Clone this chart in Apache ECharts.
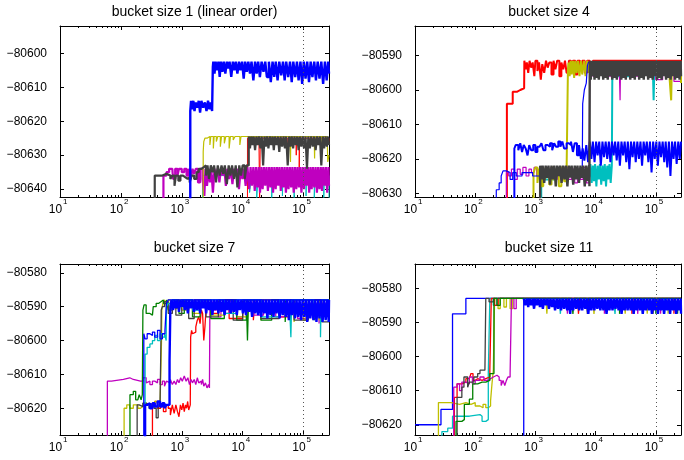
<!DOCTYPE html>
<html><head><meta charset="utf-8">
<script src="https://cdn.jsdelivr.net/npm/echarts@6/dist/echarts.min.js"></script>
<style>html,body{margin:0;padding:0;background:#fff}#c{width:684px;height:460px}</style>
</head><body><div id="c"></div><script>
// ---------- axis settings ----------
const titles = ['bucket size 1 (linear order)', 'bucket size 4', 'bucket size 7', 'bucket size 11'];
const yMin = [-80642.3, -80631.1, -80627.9, -80623.0];
const yMax = [-80592, -80581.4, -80577.4, -80572.9];
const xMin = 10, xMax = 262144;
const markX = 100000;

// ---------- panel 1: bucket size 1 ----------
const p1_blue = [[1380,-80650],[1380,-80617],[1420,-80614],[1480,-80616.5],[1550,-80614],[1620,-80617],[1700,-80614.5],[1800,-80616],[1900,-80614],[2000,-80617.5],[2100,-80614],[2250,-80616],[2400,-80614.5],[2550,-80617],[2700,-80614],[2850,-80616.5],[3000,-80614.5],[3150,-80617],[3240,-80604],[3300,-80602.5],[3450,-80606],[3600,-80602.5],[3800,-80605],[4000,-80602.5],[4200,-80607],[4400,-80602.5],[4650,-80605.5],[4900,-80602.5],[5200,-80606],[5500,-80602.5],[5800,-80604.5],[6100,-80602.5],[6500,-80607],[6900,-80602.5],[7300,-80605],[7700,-80602.5],[8200,-80606],[8700,-80602.5],[9200,-80605],[9800,-80602.5],[10400,-80607.5],[11000,-80602.5],[11700,-80605.5],[12400,-80602.5],[13200,-80606],[14000,-80602.5],[15000,-80608],[16000,-80602.5],[17000,-80606],[18000,-80602.5],[19200,-80607],[20500,-80602.5],[22000,-80605.5],[23500,-80602.5],[25000,-80607],[27000,-80602.5],[29000,-80608.5],[31000,-80602.5],[33000,-80607],[35000,-80602.5],[37500,-80608],[40000,-80602.5],[43000,-80606.5],[46000,-80602.5],[49000,-80608],[52000,-80602.5],[56000,-80607],[60000,-80602.5],[64000,-80608.5],[68000,-80602.5],[73000,-80607],[78000,-80602.5],[83000,-80608],[89000,-80602.5],[95000,-80609],[101000,-80602.5],[108000,-80607.5],[115000,-80602.5],[123000,-80608.5],[131000,-80602.5],[140000,-80607],[150000,-80602.5],[160000,-80608],[171000,-80602.5],[183000,-80607.5],[196000,-80602.5],[210000,-80609],[225000,-80602.5],[240000,-80608],[255000,-80602.5],[262144,-80606]];
const p1_gray = [[360,-80650],[360,-80636],[400,-80636],[480,-80635.5],[560,-80636],[650,-80637],[700,-80636],[760,-80639],[800,-80636],[880,-80637.5],[950,-80636],[1050,-80636.5],[1150,-80637],[1250,-80636.5],[1350,-80638],[1450,-80636],[1600,-80637],[1750,-80635],[1900,-80634],[2100,-80633.5],[2300,-80633],[2500,-80636],[2650,-80633],[2800,-80637],[3000,-80633],[3200,-80635],[3400,-80633],[3650,-80638],[3900,-80633],[4200,-80636],[4500,-80633],[4800,-80635.5],[5100,-80633],[5500,-80638.5],[5900,-80633],[6300,-80636],[6700,-80633],[7200,-80637],[7700,-80633],[8200,-80639.5],[8800,-80633],[9400,-80636],[10000,-80633],[10800,-80637],[11600,-80633],[12600,-80624.5],[13200,-80628],[13800,-80624.5],[14500,-80627],[15200,-80624.5],[16000,-80628.5],[16800,-80624.5],[17700,-80627],[18600,-80624.5],[19600,-80628],[20600,-80624.5],[21700,-80633],[22800,-80624.5],[24000,-80627.5],[25200,-80624.5],[26500,-80628],[28000,-80624.5],[29500,-80627],[31000,-80624.5],[32500,-80628.5],[34000,-80624.5],[36000,-80627],[38000,-80624.5],[40000,-80629],[42000,-80624.5],[44500,-80627.5],[47000,-80624.5],[49500,-80628],[52000,-80624.5],[55000,-80633],[58000,-80624.5],[61000,-80627.5],[64000,-80624.5],[67500,-80628],[71000,-80624.5],[75000,-80627],[79000,-80624.5],[83000,-80628.5],[87000,-80624.5],[92000,-80627.5],[97000,-80624.5],[102000,-80628],[108000,-80624.5],[114000,-80634],[120000,-80624.5],[127000,-80628],[134000,-80624.5],[142000,-80627.5],[150000,-80624.5],[158000,-80628.5],[167000,-80624.5],[176000,-80627],[186000,-80624.5],[196000,-80633],[207000,-80624.5],[218000,-80628],[230000,-80624.5],[242000,-80627.5],[254000,-80624.5],[262144,-80627]];
const p1_yellow = [[2250,-80650],[2250,-80629],[2300,-80626],[2400,-80625],[2600,-80624.5],[2900,-80627],[3000,-80624.5],[3300,-80628],[3400,-80624.5],[3700,-80626],[3900,-80624.5],[4300,-80627.5],[4500,-80624.5],[5000,-80626.5],[5300,-80624.5],[6000,-80628],[6300,-80624.5],[7000,-80625.5],[7500,-80624.5],[9000,-80627],[9400,-80624.5],[60000,-80624.5],[61000,-80632],[62000,-80624.5],[150000,-80624.5],[152000,-80631],[154000,-80624.5],[190000,-80624.5],[192000,-80632],[195000,-80624.5],[245000,-80624.5],[250000,-80632],[262144,-80630]];
const p1_magenta = [[500,-80650],[500,-80636],[560,-80635],[620,-80634],[700,-80634],[720,-80637],[780,-80634],[850,-80636],[900,-80634],[1000,-80635],[1100,-80634],[1200,-80636],[1300,-80634],[1400,-80637],[1500,-80634],[1600,-80635.5],[1700,-80634],[1850,-80638],[2000,-80634],[2200,-80637],[2350,-80642],[2450,-80634],[2600,-80639],[2750,-80634],[2900,-80638],[3050,-80634],[3250,-80641],[3450,-80634],[3650,-80636.5],[3900,-80634],[4150,-80638],[4400,-80634],[4700,-80636],[5000,-80634],[5300,-80639],[5600,-80634],[6000,-80637],[6400,-80634],[6800,-80638.5],[7200,-80634],[7700,-80636],[8200,-80634],[8700,-80640],[9300,-80634],[9900,-80637],[10500,-80634],[11200,-80639],[12000,-80633.5],[12800,-80640],[13500,-80633.5],[14200,-80639],[15000,-80633.5],[15800,-80640.5],[16600,-80633.5],[17500,-80639.5],[18400,-80633.5],[19300,-80641],[20300,-80633.5],[21300,-80640],[22400,-80633.5],[23500,-80639],[24700,-80633.5],[26000,-80640.5],[27300,-80633.5],[28700,-80639.5],[30100,-80633.5],[31600,-80641],[33200,-80633.5],[34900,-80640],[36600,-80633.5],[38400,-80639],[40300,-80633.5],[42300,-80640.5],[44400,-80633.5],[46600,-80639.5],[49000,-80633.5],[51400,-80641],[54000,-80633.5],[56700,-80640],[59500,-80633.5],[62500,-80639.5],[65600,-80633.5],[69000,-80641],[72400,-80633.5],[76000,-80640],[79800,-80633.5],[83800,-80639.5],[88000,-80633.5],[92400,-80641],[97000,-80633.5],[102000,-80640],[107000,-80633.5],[112000,-80639],[118000,-80633.5],[124000,-80641],[130000,-80633.5],[136000,-80640],[143000,-80633.5],[150000,-80639.5],[158000,-80633.5],[166000,-80641],[174000,-80633.5],[183000,-80640],[192000,-80633.5],[201000,-80640.5],[211000,-80633.5],[222000,-80639],[233000,-80633.5],[245000,-80641],[257000,-80633.5],[262144,-80639]];
const p1_cyan = [[2200,-80650],[2200,-80636],[12000,-80636],[13000,-80641],[14000,-80636],[17000,-80643],[18000,-80636],[30000,-80643],[31000,-80636],[45000,-80642],[46000,-80636],[70000,-80643],[72000,-80636],[110000,-80642],[112000,-80636],[150000,-80643],[155000,-80636],[215000,-80643],[220000,-80636],[262144,-80643]];
const p1_red = [[12000,-80650],[12000,-80625],[18500,-80625],[19000,-80643],[19500,-80625],[55000,-80625],[56000,-80632],[57000,-80625],[75000,-80625],[76000,-80630],[77000,-80625],[85000,-80634],[86000,-80625],[262144,-80626]];

// ---------- panel 2: bucket size 4 ----------
const p2_red = [[336,-80650],[336,-80604],[420,-80604],[420,-80600.5],[500,-80600],[560,-80599.5],[650,-80600],[655,-80591.5],[690,-80594],[720,-80592],[760,-80595],[800,-80591.5],[850,-80593.5],[900,-80592],[960,-80596],[1000,-80591.5],[1080,-80594.5],[1150,-80592],[1230,-80597],[1300,-80592.5],[1400,-80595],[1500,-80591.5],[1600,-80593.5],[1700,-80592],[1850,-80595.5],[2000,-80591.5],[2150,-80594],[2300,-80591.5],[2500,-80596],[2700,-80592],[2900,-80594],[3100,-80591.5],[3300,-80595],[3600,-80591.5],[3900,-80594],[4200,-80591.5],[4600,-80595.5],[5000,-80591.5],[5500,-80594],[6000,-80591.5],[6600,-80595],[7200,-80591.5],[8000,-80595],[9000,-80591.5],[262144,-80596]];
const p2_blueA = [[224,-80650],[224,-80629],[250,-80627],[270,-80625],[290,-80623.5],[330,-80624],[380,-80626],[420,-80624],[480,-80625],[600,-80624],[900,-80625],[1500,-80624],[3000,-80625],[5000,-80624],[6000,-80624],[6100,-80604],[6500,-80600],[7000,-80598],[7300,-80593],[7600,-80592],[262144,-80594]];
const p2_blueB = [[447,-80650],[447,-80617],[470,-80616],[520,-80617.5],[560,-80615.5],[600,-80618],[640,-80616],[690,-80617],[740,-80619],[790,-80616],[850,-80617.5],[920,-80616],[1000,-80618],[1080,-80616.5],[1170,-80617],[1260,-80615.5],[1360,-80617.5],[1470,-80616],[1600,-80616.5],[1750,-80615.5],[1900,-80617.5],[2050,-80615.5],[2200,-80616.5],[2400,-80615],[2600,-80616.5],[2800,-80615],[3000,-80617],[3300,-80615.5],[3600,-80616],[3900,-80615],[4200,-80618],[4500,-80615.5],[4900,-80619],[5300,-80616],[5700,-80620],[6100,-80617],[6500,-80620.5],[7000,-80616],[7500,-80621],[8000,-80615],[8500,-80620],[9000,-80615],[9600,-80621],[10200,-80615],[10800,-80619],[11500,-80615],[12200,-80622],[13000,-80615],[13800,-80619.5],[14700,-80615],[15600,-80620],[16600,-80615],[17600,-80621],[18700,-80615],[19900,-80619],[21100,-80615],[22400,-80620.5],[23800,-80615],[25300,-80622],[26900,-80615],[28600,-80619],[30400,-80615],[32300,-80621],[34300,-80615],[36400,-80623],[38700,-80615],[41100,-80619.5],[43700,-80615],[46400,-80621],[49300,-80615],[52400,-80620],[55600,-80615],[59100,-80622],[62800,-80615],[66700,-80619],[70900,-80615],[75300,-80621],[80000,-80615],[85000,-80624],[90300,-80615],[96000,-80620],[102000,-80615],[108000,-80622],[115000,-80615],[122000,-80619.5],[130000,-80615],[138000,-80621],[146000,-80615],[155000,-80622.5],[165000,-80615],[175000,-80625],[186000,-80615],[197000,-80620],[209000,-80615],[222000,-80621.5],[236000,-80615],[250000,-80620],[262144,-80615]];
const p2_magenta = [[330,-80650],[330,-80624],[360,-80625],[400,-80623],[450,-80626],[500,-80623],[560,-80624.5],[620,-80622.5],[700,-80625],[780,-80623],[860,-80624],[950,-80622.5],[1050,-80625],[1150,-80623],[1300,-80626],[1450,-80623],[1600,-80625],[1800,-80622.5],[2000,-80626],[2300,-80623],[2600,-80625.5],[3000,-80622.5],[3500,-80626],[4000,-80623],[4500,-80627],[5000,-80623],[5600,-80626],[6200,-80622.5],[7000,-80627],[7800,-80623],[8000,-80593],[9000,-80596],[10000,-80592],[15000,-80596],[20000,-80592],[25000,-80597],[25500,-80603],[26000,-80592],[40000,-80596],[60000,-80592],[100000,-80597],[130000,-80592],[200000,-80597.5],[262144,-80596]];
const p2_yellow = [[930,-80650],[930,-80624],[1000,-80622.5],[1080,-80627],[1150,-80623],[1250,-80628],[1350,-80622.5],[1450,-80626],[1550,-80623],[1700,-80627.5],[1850,-80622.5],[2000,-80626],[2200,-80623],[2450,-80628],[2700,-80622.5],[3000,-80626.5],[3300,-80623],[3470,-80594],[3550,-80592],[3700,-80596],[3850,-80591.5],[4000,-80595.5],[4200,-80591.5],[4400,-80596.5],[4600,-80591.5],[4850,-80595],[5100,-80591.5],[5400,-80596],[5700,-80591.5],[6000,-80595.5],[6400,-80591.5],[6800,-80596],[7200,-80591.5],[7700,-80595],[8200,-80592],[100000,-80592],[170000,-80597],[180000,-80603],[185000,-80592],[262144,-80598]];
const p2_gray = [[1200,-80650],[1200,-80622],[1260,-80626],[1320,-80622],[1400,-80627],[1480,-80622],[1560,-80625.5],[1650,-80622],[1750,-80627.5],[1850,-80622],[1950,-80626],[2060,-80622],[2180,-80628],[2300,-80622],[2430,-80625],[2570,-80622],[2720,-80627],[2880,-80622],[3050,-80626],[3220,-80622],[3400,-80628],[3600,-80622],[3800,-80625.5],[4000,-80622],[4250,-80627.5],[4500,-80622],[4750,-80626],[5000,-80622],[5300,-80627],[5600,-80622],[5900,-80625.5],[6250,-80622],[6600,-80628],[7000,-80622],[7400,-80626.5],[7800,-80622],[7900,-80628],[8000,-80591.5],[8300,-80597],[8600,-80591.5],[8900,-80596],[9200,-80591.5],[9600,-80597],[10000,-80591.5],[10400,-80596.5],[10800,-80591.5],[11300,-80597],[11800,-80591.5],[12300,-80596],[12800,-80591.5],[13400,-80597],[14000,-80591.5],[14600,-80596.5],[15200,-80591.5],[15900,-80597],[16600,-80591.5],[17300,-80596],[18100,-80591.5],[18900,-80597],[19700,-80591.5],[20600,-80596.5],[21500,-80591.5],[22500,-80597],[23500,-80591.5],[24500,-80596],[25600,-80591.5],[26700,-80597],[27900,-80591.5],[29100,-80596.5],[30400,-80591.5],[31700,-80597],[33100,-80591.5],[34600,-80596],[36100,-80591.5],[37700,-80597],[39300,-80591.5],[41000,-80596.5],[42800,-80591.5],[44700,-80597],[46700,-80591.5],[48700,-80596],[50800,-80591.5],[53000,-80597],[55400,-80591.5],[57800,-80596.5],[60300,-80591.5],[63000,-80597],[65700,-80591.5],[68600,-80596],[71600,-80591.5],[74700,-80597],[78000,-80591.5],[81400,-80596.5],[85000,-80591.5],[88700,-80597],[92600,-80591.5],[96600,-80596],[100800,-80591.5],[105200,-80597],[109800,-80591.5],[114600,-80596.5],[119600,-80591.5],[124800,-80597],[130300,-80591.5],[136000,-80596],[142000,-80591.5],[148200,-80597],[154700,-80591.5],[161500,-80596.5],[168600,-80591.5],[176000,-80597],[183700,-80591.5],[191700,-80596],[200100,-80591.5],[208900,-80597],[218000,-80591.5],[227600,-80596.5],[237600,-80591.5],[248000,-80597],[258800,-80591.5],[262144,-80596]];
const p2_cyan = [[1250,-80650],[1250,-80626],[2000,-80625],[8000,-80624],[8200,-80621.5],[8600,-80627],[9000,-80622],[9400,-80626.5],[9800,-80621.5],[10300,-80628],[10800,-80622],[11300,-80626],[11800,-80621.5],[12400,-80627.5],[13000,-80622],[13600,-80626.5],[14200,-80621.5],[14900,-80628],[15600,-80622],[16300,-80626],[17000,-80621.5],[17800,-80627],[18600,-80622],[19000,-80592.5],[20000,-80596],[40000,-80592],[90000,-80596],[92000,-80603],[95000,-80592],[262144,-80597]];

// ---------- panel 3: bucket size 7 ----------
const p3_magenta = [[60,-80650],[60,-80612],[70,-80611.5],[110,-80611],[140,-80611.5],[160,-80612],[210,-80612],[230,-80611],[260,-80612.5],[280,-80612],[300,-80613],[330,-80612],[360,-80612.5],[400,-80611.5],[440,-80613],[480,-80612],[520,-80613.5],[560,-80612],[600,-80612.5],[650,-80611.5],[700,-80613],[750,-80612],[800,-80613],[850,-80611.5],[900,-80612.5],[960,-80611],[1020,-80612],[1100,-80610.5],[1180,-80612],[1260,-80611],[1340,-80613],[1420,-80611.5],[1500,-80612.5],[1600,-80611.5],[1700,-80613],[1800,-80611],[1900,-80612.5],[2000,-80612],[2100,-80613],[2200,-80611.5],[2300,-80613.5],[2450,-80612.5],[2600,-80614],[2750,-80613],[2850,-80614],[2900,-80589],[3000,-80592],[3200,-80588.5],[3400,-80591],[3700,-80588.5],[4000,-80593],[4400,-80589],[5000,-80592],[6000,-80588.5],[8000,-80593],[10000,-80589],[15000,-80592.5],[22000,-80589],[35000,-80593],[50000,-80589],[80000,-80593.5],[120000,-80589],[180000,-80595],[185000,-80589],[262144,-80590]];
const p3_yellow = [[113,-80650],[113,-80620],[125,-80619],[140,-80620],[160,-80619],[190,-80620],[210,-80619.5],[230,-80618.5],[260,-80619],[300,-80618.5],[330,-80619.5],[360,-80618],[400,-80619],[440,-80618.5],[465,-80600],[470,-80591],[490,-80589],[520,-80588],[560,-80590],[600,-80588],[650,-80591],[700,-80588],[800,-80590.5],[900,-80588],[1000,-80591],[1200,-80588],[1500,-80592],[2000,-80588],[3000,-80592.5],[5000,-80588],[8000,-80593],[12000,-80588],[20000,-80594],[21000,-80588],[40000,-80588],[70000,-80594.5],[73000,-80588],[100000,-80594],[110000,-80588],[180000,-80594],[190000,-80588],[262144,-80590]];
const p3_green = [[141,-80650],[141,-80616],[160,-80615],[175,-80617.5],[190,-80617],[200,-80616],[215,-80617.5],[225,-80616],[230,-80591],[240,-80589.5],[260,-80592],[300,-80592.5],[330,-80592],[340,-80590],[380,-80589],[420,-80588.5],[460,-80588],[500,-80589],[560,-80588],[600,-80591],[700,-80588],[900,-80592],[1100,-80588],[1500,-80593],[2000,-80588],[3000,-80593.5],[5000,-80588],[8000,-80594],[11500,-80588],[12000,-80600],[12500,-80588],[20000,-80594],[30000,-80588],[50000,-80594.5],[52000,-80588],[150000,-80594],[155000,-80588],[262144,-80590]];
const p3_gray = [[185,-80650],[185,-80619],[200,-80619.5],[230,-80618.5],[260,-80619],[290,-80620],[320,-80619],[350,-80620],[380,-80622.8],[410,-80620],[440,-80618.5],[455,-80600],[460,-80591],[480,-80590],[520,-80588.5],[600,-80592],[700,-80588],[800,-80592.5],[1000,-80588],[1300,-80593.5],[1600,-80588],[2500,-80593],[4000,-80588],[7000,-80594],[10000,-80588],[20000,-80593.5],[40000,-80588],[70000,-80594],[120000,-80588],[200000,-80594.5],[262144,-80589]];
const p3_cyan = [[250,-80650],[250,-80604],[270,-80602],[300,-80601],[330,-80600],[360,-80598.5],[400,-80600],[440,-80598],[480,-80599],[520,-80598],[555,-80600],[560,-80590],[600,-80589],[650,-80591],[700,-80588],[800,-80590],[1000,-80588],[1500,-80591],[2000,-80588],[5000,-80592],[8000,-80588],[20000,-80593],[40000,-80588],[60000,-80593],[62000,-80599],[64000,-80588],[150000,-80593],[190000,-80599],[195000,-80588],[262144,-80591]];
const p3_blueA = [[238,-80650],[238,-80598],[250,-80599.5],[270,-80598],[300,-80598.5],[330,-80597.5],[360,-80599],[400,-80597],[440,-80599.5],[480,-80598],[530,-80597],[560,-80589],[600,-80588],[262144,-80588]];
const p3_blueB = [[250,-80650],[250,-80619],[270,-80618.5],[300,-80620],[330,-80618.5],[360,-80619.5],[400,-80618],[440,-80619.5],[480,-80618.5],[520,-80620],[560,-80619],[600,-80619],[630,-80606],[650,-80590],[680,-80588],[720,-80591],[760,-80588],[800,-80590.5],[850,-80588],[900,-80591.5],[950,-80588],[1000,-80590],[1060,-80588],[1120,-80591],[1190,-80588],[1260,-80592],[1330,-80588],[1410,-80590.5],[1500,-80588],[1590,-80591.5],[1680,-80588],[1780,-80591],[1890,-80588],[2000,-80592],[2120,-80588],[2250,-80590.5],[2380,-80588],[2520,-80592],[2670,-80588],[2830,-80591],[3000,-80588],[3180,-80592.5],[3370,-80588],[3570,-80591],[3780,-80588],[4000,-80592],[4240,-80588],[4500,-80591.5],[4770,-80588],[5050,-80592.5],[5350,-80588],[5670,-80591],[6000,-80588],[6360,-80592],[6740,-80588],[7140,-80591.5],[7570,-80588],[8020,-80592.5],[8500,-80588],[9000,-80591],[9540,-80588],[10100,-80592],[10700,-80588],[11350,-80592.5],[12000,-80588],[12750,-80591.5],[13500,-80588],[14300,-80593],[15200,-80588],[16100,-80592],[17000,-80588],[18000,-80592.5],[19100,-80588],[20200,-80593],[21400,-80588],[22700,-80592],[24100,-80588],[25500,-80593.5],[27000,-80588],[28600,-80592.5],[30300,-80588],[32100,-80593],[34000,-80588],[36000,-80592],[38200,-80588],[40500,-80593.5],[42900,-80588],[45500,-80592.5],[48200,-80588],[51100,-80593],[54100,-80588],[57400,-80594],[60800,-80588],[64400,-80592.5],[68300,-80588],[72400,-80593.5],[76700,-80588],[81300,-80593],[86100,-80588],[91300,-80594],[96700,-80588],[102500,-80593],[108600,-80588],[115100,-80594.5],[122000,-80588],[129300,-80593.5],[137000,-80588],[145200,-80594],[153900,-80588],[163100,-80594.5],[172800,-80588],[183100,-80593.5],[194100,-80588],[205700,-80594.5],[218000,-80588],[231000,-80594],[244800,-80588],[259400,-80594.5],[262144,-80588]];
const p3_red = [[330,-80650],[330,-80619],[360,-80618],[400,-80620],[450,-80619],[500,-80621],[550,-80619],[600,-80620],[650,-80622],[700,-80619],[750,-80621.5],[800,-80619],[850,-80621],[900,-80622.5],[950,-80619],[1000,-80620.5],[1050,-80618.5],[1100,-80621],[1150,-80619],[1200,-80620],[1250,-80618],[1300,-80620.5],[1380,-80619],[1400,-80599],[1450,-80597],[1500,-80598],[1600,-80597.5],[1700,-80596],[1800,-80594],[1900,-80593],[2000,-80595],[2100,-80591],[2200,-80592],[2300,-80600],[2400,-80596],[2500,-80591],[2600,-80589],[3000,-80592],[4000,-80588],[6000,-80593.5],[10000,-80588],[15000,-80594],[16000,-80588],[40000,-80593],[60000,-80588],[262144,-80592]];

// ---------- panel 4: bucket size 11 ----------
const p4_blueA = [[10,-80620],[27,-80615.5],[42,-80587.5],[70,-80583],[640,-80650]];
const p4_yellow = [[24.5,-80650],[24.5,-80613.5],[40,-80614],[55,-80613.5],[70,-80614],[85,-80613.5],[100,-80614.5],[120,-80615],[135,-80614],[150,-80615],[165,-80614.5],[180,-80613],[190,-80608],[200,-80604],[210,-80583],[240,-80586],[260,-80583],[300,-80585.5],[330,-80583],[380,-80586],[420,-80583],[1500,-80583],[1550,-80587.5],[1600,-80583],[9000,-80583],[9400,-80587.5],[9800,-80583],[30000,-80583],[31000,-80587.5],[32000,-80583],[70000,-80583],[72000,-80587.5],[74000,-80583],[110000,-80587.5],[112000,-80583],[160000,-80587.5],[165000,-80583],[262144,-80583]];
const p4_cyan = [[28,-80650],[28,-80622],[35,-80621],[42,-80617.5],[60,-80617.5],[80,-80617],[120,-80617.5],[130,-80619],[150,-80619],[160,-80618.5],[165,-80605],[175,-80583],[200,-80585],[230,-80583],[2500,-80583],[2600,-80587.5],[2700,-80583],[20000,-80583],[21000,-80587.5],[22000,-80583],[60000,-80587.5],[62000,-80583],[140000,-80587.5],[145000,-80583],[262144,-80583]];
const p4_red = [[45,-80650],[45,-80612],[50,-80608],[60,-80607.5],[70,-80606.5],[80,-80607],[85,-80605],[92,-80607],[100,-80606.5],[110,-80607],[130,-80606.5],[150,-80607],[160,-80606],[175,-80604],[185,-80583],[210,-80585],[240,-80583],[5000,-80583],[5200,-80587.5],[5400,-80583],[40000,-80587.5],[42000,-80583],[200000,-80587.5],[205000,-80583],[262144,-80583]];
const p4_magenta = [[44,-80650],[44,-80609],[50,-80608],[55,-80610],[60,-80607.5],[70,-80608],[80,-80606],[90,-80608],[100,-80607],[120,-80606],[140,-80607],[160,-80606.5],[180,-80606],[200,-80605.5],[230,-80606],[250,-80607],[270,-80608.5],[290,-80607],[310,-80608.5],[330,-80607],[350,-80606],[380,-80605],[400,-80583],[440,-80586],[480,-80583],[3300,-80583],[3400,-80587.5],[3500,-80583],[14000,-80587.5],[14500,-80583],[50000,-80587.5],[52000,-80583],[120000,-80587.5],[124000,-80583],[262144,-80583]];
const p4_gray = [[50,-80650],[50,-80612],[60,-80609],[65,-80606],[75,-80609],[80,-80607.5],[95,-80606],[110,-80605],[120,-80604],[145,-80604],[150,-80583],[170,-80584],[200,-80583],[7000,-80583],[7300,-80587.5],[7600,-80583],[90000,-80587.5],[94000,-80583],[262144,-80583]];
const p4_green = [[48,-80650],[48,-80619],[60,-80618.5],[66,-80614],[80,-80612.5],[91,-80608],[110,-80607.5],[130,-80607.5],[150,-80607],[175,-80605],[205,-80583],[230,-80585],[260,-80583],[4000,-80583],[4200,-80587.5],[4400,-80583],[25000,-80587.5],[26000,-80583],[100000,-80587.5],[104000,-80583],[230000,-80587.5],[235000,-80583],[262144,-80583]];
const p4_blueB = [[640,-80583],[680,-80585],[720,-80583],[760,-80585.5],[800,-80583],[850,-80585],[900,-80583],[950,-80586],[1000,-80583],[1060,-80585],[1120,-80583],[1190,-80585.5],[1260,-80583],[1330,-80586],[1410,-80583],[1500,-80585],[1590,-80583],[1680,-80586],[1780,-80583],[1890,-80585.5],[2000,-80583],[2120,-80586.5],[2250,-80583],[2380,-80586],[2520,-80583],[2670,-80586.5],[2830,-80583],[3000,-80586],[3180,-80583],[3370,-80586.5],[3570,-80583],[3780,-80587.5],[4000,-80583],[4240,-80586.5],[4500,-80583],[4770,-80586],[5050,-80583],[5350,-80586.5],[5670,-80583],[6000,-80586.5],[6360,-80583],[6740,-80586],[7140,-80583],[7570,-80587.5],[8020,-80583],[8500,-80586.5],[9000,-80583],[9540,-80586.5],[10100,-80583],[10700,-80586],[11350,-80583],[12000,-80586.5],[12750,-80583],[13500,-80586.5],[14300,-80583],[15200,-80587.5],[16100,-80583],[17000,-80586.5],[18000,-80583],[19100,-80586.5],[20200,-80583],[21400,-80586],[22700,-80583],[24100,-80586.5],[25500,-80583],[27000,-80587.5],[28600,-80583],[30300,-80586.5],[32100,-80583],[34000,-80586.5],[36000,-80583],[38200,-80586.5],[40500,-80583],[42900,-80587.5],[45500,-80583],[48200,-80586.5],[51100,-80583],[54100,-80586.5],[57400,-80583],[60800,-80587.5],[64400,-80583],[68300,-80586.5],[72400,-80583],[76700,-80586.5],[81300,-80583],[86100,-80587.5],[91300,-80583],[96700,-80586.5],[102500,-80583],[108600,-80587.5],[115100,-80583],[122000,-80586.5],[129300,-80583],[137000,-80587.5],[145200,-80583],[153900,-80586.5],[163100,-80583],[172800,-80587.5],[183100,-80583],[194100,-80586.5],[205700,-80583],[218000,-80587.5],[231000,-80583],[244800,-80586.5],[259400,-80583],[262144,-80587.5]];

// ---------- styling & assembly ----------
const COL = {b:'#0000ff', g:'#008000', r:'#ff0000', c:'#00bfbf', m:'#bf00bf', y:'#bfbf00', k:'#404040'};
// [colour key, data, line width]
const panels = [
  [['r',p1_red,1],['c',p1_cyan,1],['m',p1_magenta,2.2],['y',p1_yellow,1.2],['k',p1_gray,2.2],['b',p1_blue,2.4]],
  [['r',p2_red,2],['c',p2_cyan,2],['m',p2_magenta,1.2],['y',p2_yellow,2],['b',p2_blueA,1.2],['b',p2_blueB,2],['k',p2_gray,2.4]],
  [['r',p3_red,1.3],['m',p3_magenta,1.3],['y',p3_yellow,1.3],['g',p3_green,1.3],['k',p3_gray,1.3],['c',p3_cyan,1.3],['b',p3_blueA,1.3],['b',p3_blueB,2.4]],
  [['b',p4_blueA,1.3],['y',p4_yellow,1.3],['c',p4_cyan,1.3],['r',p4_red,1.3],['m',p4_magenta,1.3],['k',p4_gray,1.3],['g',p4_green,1.3],['b',p4_blueB,2.4]]
];
const FONT = 'Liberation Sans, Arial, Helvetica, sans-serif';
const grids = [
  {left:60, top:26, width:269, height:171},
  {left:415, top:26, width:268, height:171},
  {left:60, top:264, width:269, height:171},
  {left:415, top:264, width:268, height:171}
];
const titleCenters = [[194.5, 5], [549, 5], [194.5, 241], [549, 241]];
const minorVals = [];
for (let d = 1; d <= 5; d++) for (let k = 2; k <= 9; k++) {
  const v = Math.log10(k) + d; if (v < Math.log10(xMax)) minorVals.push(v);
}
const isDecade = v => { const e = Math.log10(v); return Math.abs(e - Math.round(e)) < 1e-6; };
const NX = 5; // x axes per panel
const lineSty = {show:true, lineStyle:{color:'#000', width:1}};
const xAxes = [], yAxes = [], series = [], title = [];
grids.forEach((g, i) => {
  title.push({text: titles[i], left: titleCenters[i][0], top: titleCenters[i][1], textAlign:'center', padding:0,
    textStyle:{fontSize:14, fontWeight:'normal', color:'#000', fontFamily:FONT}});
  const xBase = {type:'log', logBase:10, min:xMin, max:xMax, gridIndex:i, splitLine:{show:false}, axisLine:lineSty};
  // bottom: major ticks + mantissa "10"
  xAxes.push(Object.assign({}, xBase, {position:'bottom',
    axisTick:{inside:true, length:4, lineStyle:{color:'#000'}},
    axisLabel:{margin:7, fontSize:12, fontFamily:FONT, color:'#000', padding:[0,9,0,0],
      formatter: v => (isDecade(v) ? '10' : '')}}));
  // top: major ticks
  xAxes.push(Object.assign({}, xBase, {position:'top', axisTick:{inside:true, length:4, lineStyle:{color:'#000'}}, axisLabel:{show:false}}));
  // minor ticks (positions of 2..9 × 10^k)
  const mBase = {type:'value', min:1, max:Math.log10(xMax), gridIndex:i, splitLine:{show:false}, axisLine:{show:false}, axisLabel:{show:false}};
  xAxes.push(Object.assign({}, mBase, {position:'bottom', axisTick:{inside:true, length:2, customValues:minorVals, lineStyle:{color:'#000'}}}));
  xAxes.push(Object.assign({}, mBase, {position:'top', axisTick:{inside:true, length:2, customValues:minorVals, lineStyle:{color:'#000'}}}));
  // exponent labels
  xAxes.push(Object.assign({}, xBase, {position:'bottom', axisLine:{show:false}, axisTick:{show:false},
    axisLabel:{margin:1, fontSize:8, fontFamily:FONT, color:'#000', align:'left', padding:[0,0,0,3],
      formatter: v => (isDecade(v) ? String(Math.round(Math.log10(v))) : '')}}));
  const yBase = {type:'value', min:yMin[i], max:yMax[i], gridIndex:i, scale:true, splitLine:{show:false}, axisLine:lineSty,
    axisTick:{inside:true, length:4, lineStyle:{color:'#000'}}};
  yAxes.push(Object.assign({}, yBase, {position:'left', axisLabel:{margin:13, fontSize:12, fontFamily:FONT, color:'#000',
    formatter: v => (Math.abs(v / 10 - Math.round(v / 10)) < 1e-6 ? String(v).replace('-', '\u2212') : '')}}));
  yAxes.push(Object.assign({}, yBase, {position:'right', axisLabel:{show:false}}));
  panels[i].forEach((s, j) => {
    const ser = {type:'line', step:'end', xAxisIndex:NX*i, yAxisIndex:2*i, data:s[1], symbol:'none', showSymbol:false,
      lineStyle:{color:COL[s[0]], width:s[2]}, itemStyle:{color:COL[s[0]]}, silent:true, animation:false};
    if (j === 0) ser.markLine = {silent:true, symbol:['none','none'], label:{show:false},
      lineStyle:{type:[1,3], color:'#555', width:1}, data:[{xAxis:markX}]};
    series.push(ser);
  });
});
const chart = echarts.init(document.getElementById('c'), null, {renderer:'canvas'});
chart.setOption({animation:false, backgroundColor:'#fff', title, grid:grids, xAxis:xAxes, yAxis:yAxes, series});
</script></body></html>
